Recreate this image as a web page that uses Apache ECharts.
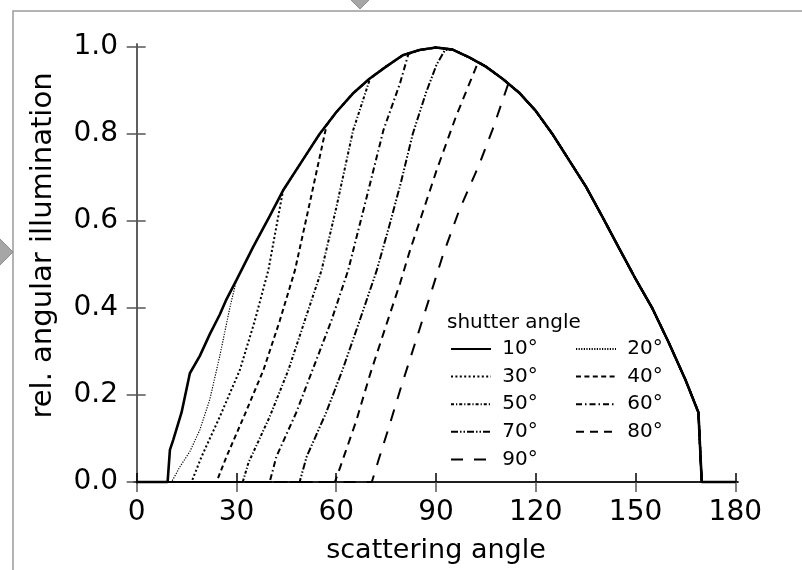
<!DOCTYPE html>
<html>
<head>
<meta charset="utf-8">
<script src="https://cdn.jsdelivr.net/npm/echarts@6/dist/echarts.min.js"></script>
<style>
  html, body { margin: 0; padding: 0; background: #fff; }
  #chart { width: 802px; height: 570px; }
</style>
</head>
<body>
<div id="chart"></div>
<script>
// tick positions
var xTicks = [0, 30, 60, 90, 120, 150, 180];
var yTicks = [0, 0.2, 0.4, 0.6, 0.8, 1.0];

// shutter angles (legend names)
var names = ['10°', '20°', '30°', '40°', '50°', '60°', '70°', '80°', '90°'];

// 10° curve = full envelope [scattering angle, rel. illumination]
var env10 = [[0,0],[9.3,0],[10,0.074],[11,0.097],[13.5,0.16],[16,0.25],[19,0.29],[22,0.34],[25,0.385],
  [27,0.42],[30,0.464],[35,0.54],[40,0.611],[44,0.67],[50,0.741],[55,0.8],[60,0.85],[65,0.893],
  [70,0.927],[75,0.955],[80,0.981],[85,0.993],[90,0.999],[95,0.994],[100,0.976],[105,0.955],
  [110,0.927],[115,0.895],[120,0.853],[125,0.8],[130,0.74],[135,0.68],[140,0.61],[145,0.538],
  [150,0.467],[155,0.4],[160,0.32],[165,0.235],[168.9,0.16],[169.9,0],[180,0]];

// rising parts of the other curves, until they meet the envelope
var rise20 = [[0,0],[10.5,0],[13,0.035],[16,0.07],[19,0.12],[22,0.19],[25,0.29],[28,0.4],[30,0.464]];
var rise30 = [[0,0],[16.5,0],[19.5,0.058],[25,0.15],[31,0.257],[35.5,0.37],[39.6,0.487],[44,0.67]];
var rise40 = [[0,0],[24,0],[27,0.058],[32.5,0.155],[38.1,0.257],[43,0.37],[47.6,0.487],[52,0.64],[57.1,0.82]];
var rise50 = [[0,0],[31.9,0],[33.6,0.044],[40,0.15],[45.6,0.257],[50.5,0.37],[55.6,0.487],[60,0.63],
  [65.1,0.809],[70.2,0.928]];
var rise60 = [[0,0],[40,0],[42,0.058],[48,0.16],[53,0.26],[58.5,0.37],[63.6,0.487],[69,0.65],[74.2,0.809],
  [79.2,0.917],[81.7,0.984]];
var rise70 = [[0,0],[49,0],[51.1,0.058],[57,0.16],[62,0.26],[67,0.37],[72.2,0.487],[76,0.59],[79.5,0.69],
  [83,0.8],[87,0.895],[90.2,0.96],[92.7,0.993]];
var rise80 = [[0,0],[59.6,0],[61.1,0.032],[66,0.14],[70.2,0.248],[75,0.36],[79.2,0.457],[82.2,0.533],
  [86,0.62],[90.2,0.717],[96,0.84],[102.7,0.966]];
var rise90 = [[0,0],[70.7,0],[72.7,0.05],[76,0.13],[79.2,0.211],[85,0.35],[90.2,0.476],[92,0.52],[97,0.625],
  [103,0.73],[107,0.81],[111.8,0.917]];

var rises = [null, rise20, rise30, rise40, rise50, rise60, rise70, rise80, rise90];

// line looks
var dashes = ['solid', [1.2, 1.4], [2, 2.4], [5, 3.4], [3, 2, 1.2, 2], [6, 3, 1.5, 3], [7, 2, 1.5, 2, 1.5, 2], [8, 6], [12, 11]];
var widths = [2.6, 1.2, 2, 2, 2, 2, 2, 2, 2];

function curveData(i) {
  if (i === 0) return env10;
  var r = rises[i];
  var xJoin = r[r.length - 1][0];
  return r.concat(env10.filter(function (p) { return p[0] > xJoin; }));
}

var font = '"DejaVu Sans", sans-serif';
var axisGrey = '#555';

var series = names.map(function (n, i) {
  return {
    name: n,
    type: 'line',
    xAxisIndex: 0,
    yAxisIndex: 0,
    data: curveData(i),
    symbol: 'none',
    z: i === 0 ? 5 : 3,
    lineStyle: { color: '#000', width: widths[i], type: dashes[i], cap: 'butt' },
    itemStyle: { color: '#000' }
  };
});

var legendBase = {
  orient: 'vertical',
  itemWidth: 40,
  itemHeight: 14,
  itemGap: 7.6,
  padding: 0,
  selectedMode: false,
  formatter: ' {name}',
  itemStyle: { color: 'rgba(0,0,0,0)', opacity: 0, borderWidth: 0 },
  textStyle: { fontFamily: font, fontSize: 20, color: '#000' }
};

var option = {
  animation: false,
  backgroundColor: '#fff',
  title: {
    text: 'shutter angle',
    left: 447, top: 313, padding: 0,
    textStyle: { fontFamily: font, fontSize: 20, fontWeight: 'normal', color: '#000' }
  },
  legend: [
    Object.assign({}, legendBase, { left: 450, top: 339, data: ['10°', '30°', '50°', '70°', '90°'] }),
    Object.assign({}, legendBase, { left: 575, top: 339, data: ['20°', '40°', '60°', '80°'] })
  ],
  grid: { left: 134, right: 64, top: 44, bottom: 87 },
  xAxis: [{
    type: 'value', position: 'bottom', min: -0.8, max: 180.8,
    name: 'scattering angle', nameLocation: 'middle', nameGap: 54,
    nameTextStyle: { fontFamily: font, fontSize: 27, color: '#000' },
    splitLine: { show: false },
    axisLine: { lineStyle: { color: axisGrey, width: 1.5 } },
    axisTick: { length: 10, customValues: xTicks, lineStyle: { color: axisGrey, width: 1.5 } },
    axisLabel: { customValues: xTicks, margin: 16, fontFamily: font, fontSize: 28, color: '#000' }
  }, {
    type: 'value', position: 'top', min: -0.8, max: 180.8,
    splitLine: { show: false },
    axisLine: { lineStyle: { color: '#000', width: 1.5 } },
    axisTick: { length: 9, customValues: xTicks, lineStyle: { color: '#000', width: 1.5 } },
    axisLabel: { show: false }
  }],
  yAxis: [{
    type: 'value', position: 'left', min: -0.0023, max: 1.0069,
    name: 'rel. angular illumination', nameLocation: 'middle', nameGap: 76,
    nameTextStyle: { fontFamily: font, fontSize: 29, color: '#000', padding: [0, 0, 0, 36] },
    splitLine: { show: false },
    axisLine: { lineStyle: { color: axisGrey, width: 1.5 } },
    axisTick: { length: 10, customValues: yTicks, lineStyle: { color: axisGrey, width: 1.5 } },
    axisLabel: {
      customValues: yTicks, margin: 16, fontFamily: font, fontSize: 28, color: '#000',
      formatter: function (v) { return v.toFixed(1); }
    }
  }, {
    type: 'value', position: 'right', min: -0.0023, max: 1.0069,
    splitLine: { show: false },
    axisLine: { lineStyle: { color: axisGrey, width: 1.5 } },
    axisTick: { length: 9, customValues: yTicks, lineStyle: { color: axisGrey, width: 1.5 } },
    axisLabel: { show: false }
  }],
  graphic: [
    { type: 'polyline', silent: true, z: -1, shape: { points: [[13, 570], [13, 11], [802, 11]] },
      style: { stroke: '#9a9a9a', lineWidth: 1.5, fill: null } },
    { type: 'polygon', silent: true, shape: { points: [[350, -1], [360, -11], [370, -1], [360, 9]] },
      style: { fill: '#a6a6a6', stroke: '#8c8c8c', lineWidth: 1 } },
    { type: 'polygon', silent: true, shape: { points: [[-13, 252], [0, 239], [13, 252], [0, 265]] },
      style: { fill: '#a6a6a6', stroke: '#8c8c8c', lineWidth: 1 } }
  ],
  series: series
};

var myChart = echarts.init(document.getElementById('chart'));
myChart.setOption(option);
</script>
</body>
</html>
